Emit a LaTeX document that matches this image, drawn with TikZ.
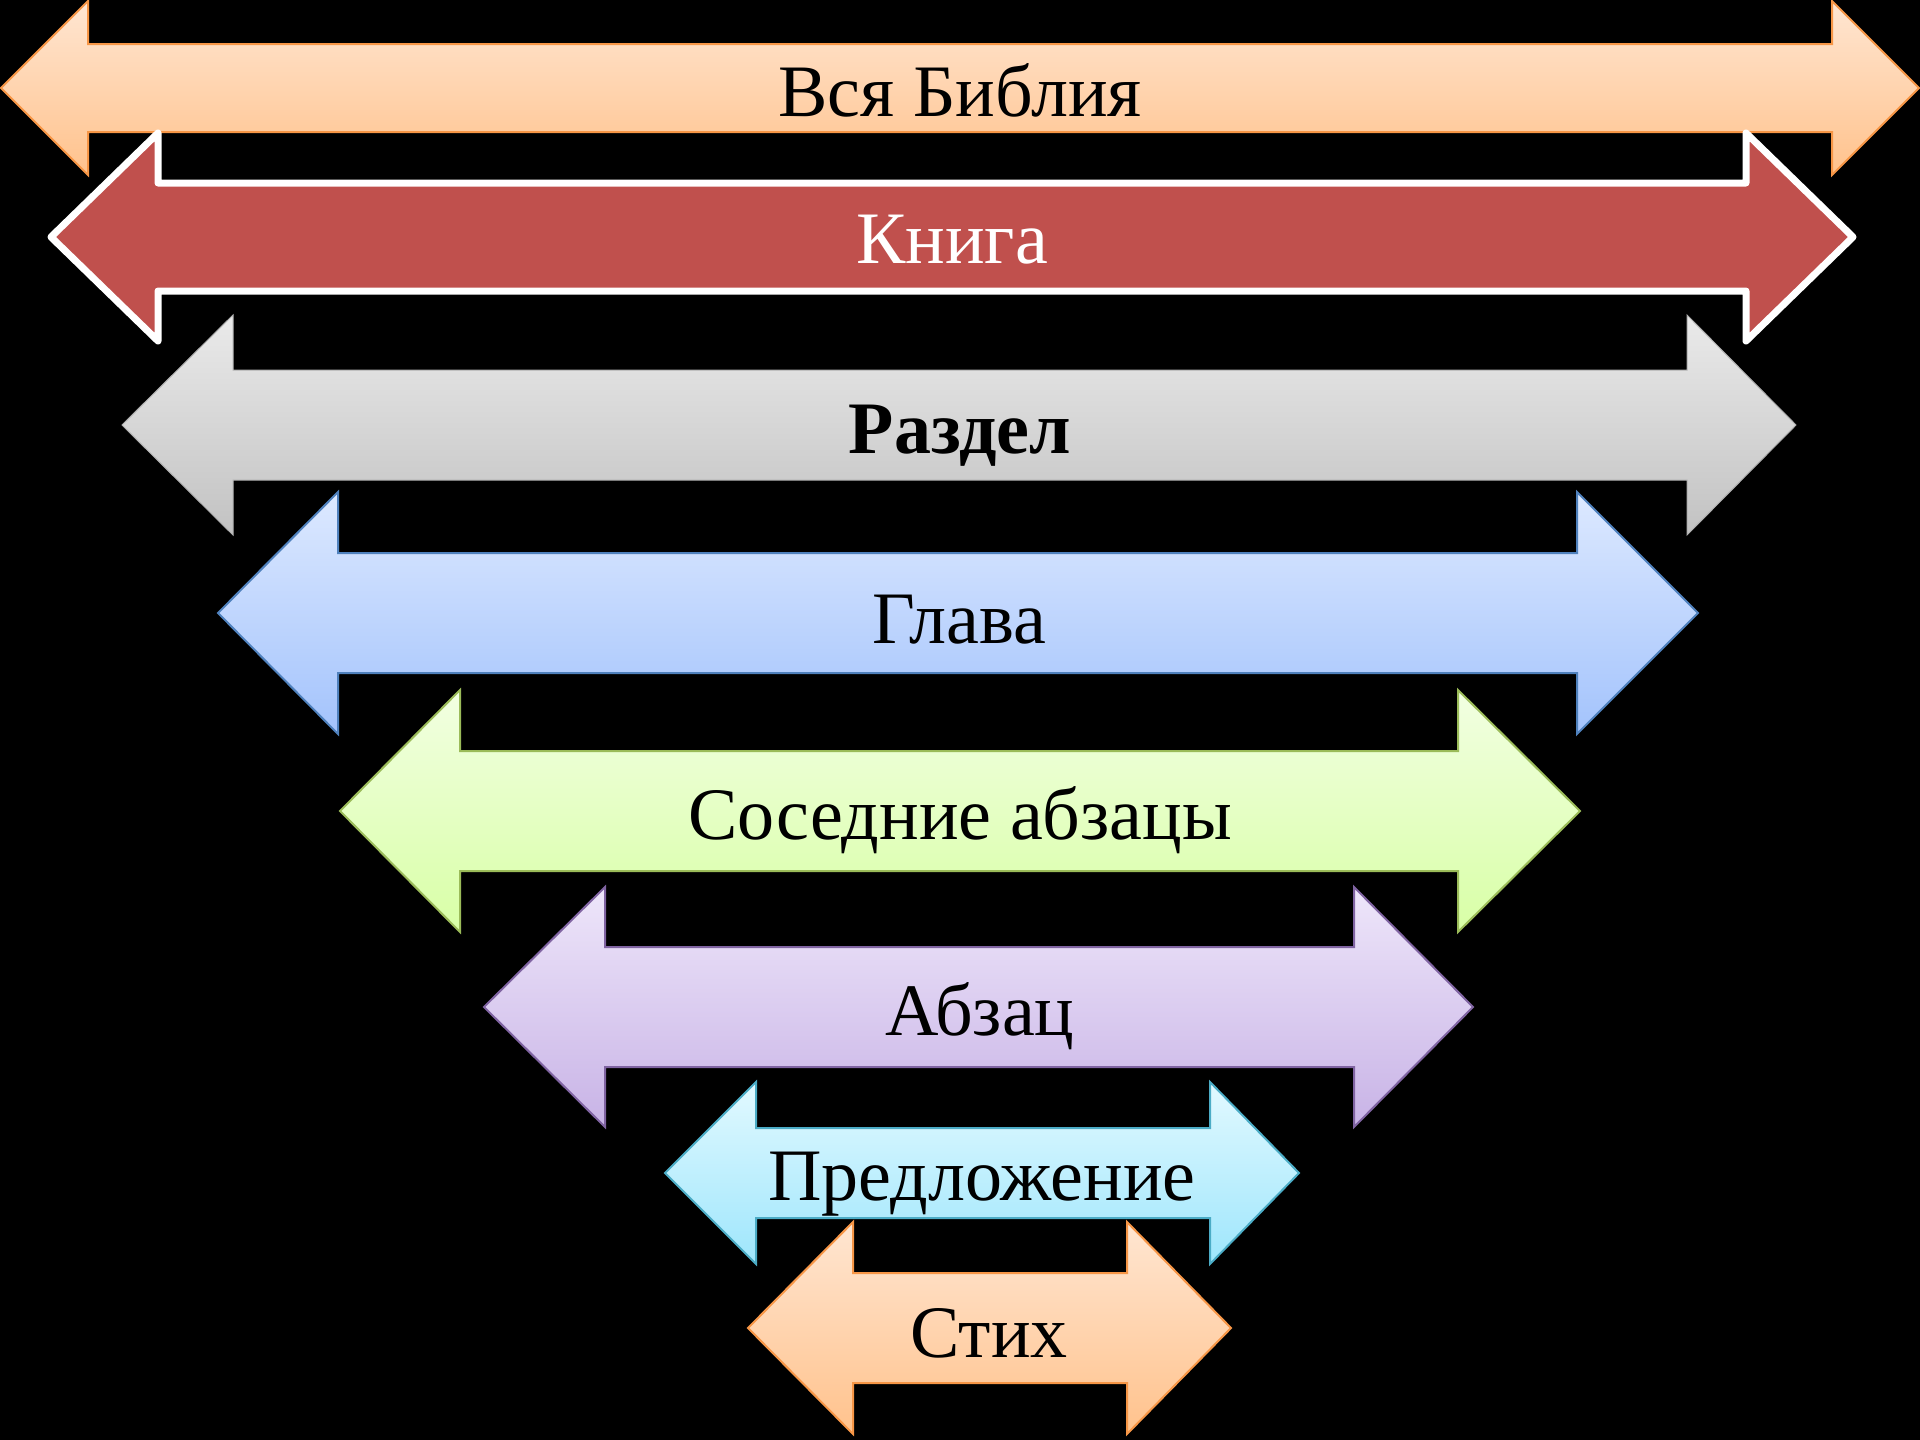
\documentclass[tikz,border=0pt]{standalone}
\usepackage{fontspec}
\setmainfont{Liberation Serif}
\usetikzlibrary{shadings}
\definecolor{orfillA}{HTML}{FFE6D2}
\definecolor{orfillB}{HTML}{FFC28C}
\definecolor{orline}{HTML}{F79646}
\definecolor{redfill}{HTML}{C0504D}
\definecolor{grayA}{HTML}{EAEAEA}
\definecolor{grayB}{HTML}{C2C2C2}
\definecolor{blueA}{HTML}{DDE9FF}
\definecolor{blueB}{HTML}{A3C3FC}
\definecolor{blueline}{HTML}{4F81BD}
\definecolor{greenA}{HTML}{F2FFE2}
\definecolor{greenB}{HTML}{D8FFA6}
\definecolor{greenline}{HTML}{9BBB59}
\definecolor{purpA}{HTML}{EEE6FA}
\definecolor{purpB}{HTML}{C8B3E6}
\definecolor{purpline}{HTML}{8064A2}
\definecolor{cyanA}{HTML}{E2F9FF}
\definecolor{cyanB}{HTML}{9EE6FC}
\definecolor{cyanline}{HTML}{4BACC6}
% #1 style, #2 left tip x, #3 left back x, #4 right back x, #5 right tip x, #6 centre y, #7 shaft half height, #8 head half height
\newcommand\dbarr[8]{%
  \path[#1] (#2,#6) -- (#3,#6-#8) -- (#3,#6-#7) -- (#4,#6-#7) -- (#4,#6-#8) -- (#5,#6)
    -- (#4,#6+#8) -- (#4,#6+#7) -- (#3,#6+#7) -- (#3,#6+#8) -- cycle;}
\begin{document}
\begin{tikzpicture}[x=1pt,y=-1pt,
  orarrow/.style={top color=orfillA,bottom color=orfillB,draw=orline,line width=2pt,line join=miter},
  redarrow/.style={fill=redfill,draw=white,line width=7pt,line join=round},
  grayarrow/.style={top color=grayA,bottom color=grayB,draw=grayB!90!black,line width=1pt},
  bluearrow/.style={top color=blueA,bottom color=blueB,draw=blueline,line width=2pt},
  greenarrow/.style={top color=greenA,bottom color=greenB,draw=greenline,line width=2pt},
  purparrow/.style={top color=purpA,bottom color=purpB,draw=purpline,line width=2pt},
  cyanarrow/.style={top color=cyanA,bottom color=cyanB,draw=cyanline,line width=2pt},
  lbl/.style={anchor=base,inner sep=0pt,font=\fontsize{74}{80}\selectfont,text=black}]
\fill[black] (0,0) rectangle (1920,1440);
\useasboundingbox (0,0) rectangle (1920,1440);
\dbarr{orarrow}{1}{88}{1832}{1919}{88}{44}{87}
\dbarr{redarrow}{51}{158}{1746}{1853}{237}{54}{104}
\dbarr{grayarrow}{122}{233}{1687}{1796}{425}{55}{110}
\dbarr{bluearrow}{218}{338}{1577}{1698}{613}{60}{121}
\dbarr{greenarrow}{340}{460}{1458}{1580}{811}{60}{121}
\dbarr{purparrow}{484}{605}{1354}{1473}{1007}{60}{120}
\dbarr{cyanarrow}{665}{756}{1210}{1299}{1173}{45}{91}
\dbarr{orarrow}{748}{853}{1127}{1231}{1328}{55}{106}
\node[lbl] (t1) at (960,116) {Вся Библия};
\node[lbl,text=white] (t2) at (952,263) {Книга};
\node[lbl,font=\fontsize{74}{80}\selectfont\bfseries] (t3) at (960,453) {Раздел};
\node[lbl] (t4) at (959,643) {Глава};
\node[lbl] (t5) at (960,839) {Соседние абзацы};
\node[lbl] (t6) at (980,1035) {Абзац};
\node[lbl] (t7) at (982,1200) {Предложение};
\node[lbl] (t8) at (989,1357) {Стих};
\end{tikzpicture}
\end{document}
